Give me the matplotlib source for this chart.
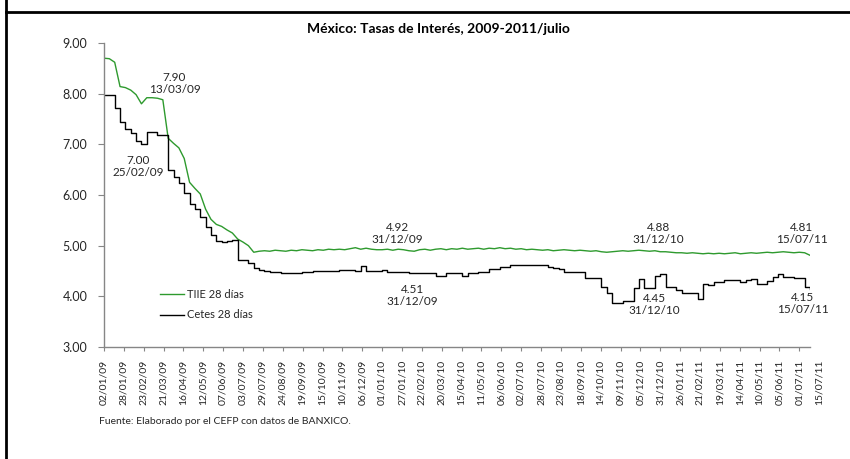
import numpy as np
import pandas as pd
import matplotlib
matplotlib.use("Agg")
from matplotlib import pyplot as plt
from matplotlib.lines import Line2D
import matplotlib.dates as mdates
import matplotlib.transforms as mtransforms

plt.rcParams['font.family'] = ['Lato', 'DejaVu Sans']

# weekly observations, 02/01/2009 - 15/07/2011
fechas = pd.date_range('2009-01-02', periods=133, freq='7D')

tiie = [8.70, 8.69, 8.62, 8.14, 8.12, 8.07, 7.98, 7.80, 7.92, 7.92, 7.91, 7.88,
        7.12, 7.02, 6.93, 6.72, 6.25, 6.13, 6.02, 5.72, 5.52, 5.42, 5.38, 5.31,
        5.25, 5.13, 5.07, 5.00, 4.87, 4.89, 4.90, 4.89, 4.91, 4.90, 4.89, 4.91,
        4.90, 4.92, 4.91, 4.90, 4.92, 4.91, 4.93, 4.92, 4.93, 4.92, 4.94, 4.96,
        4.93, 4.95, 4.93, 4.92, 4.92, 4.93, 4.91, 4.93, 4.92, 4.90, 4.89, 4.92,
        4.93, 4.91, 4.93, 4.94, 4.92, 4.94, 4.93, 4.95, 4.93, 4.94, 4.95, 4.93,
        4.95, 4.94, 4.96, 4.94, 4.95, 4.93, 4.94, 4.92, 4.93, 4.92, 4.91, 4.92,
        4.90, 4.91, 4.92, 4.91, 4.90, 4.91, 4.90, 4.89, 4.90, 4.88, 4.87, 4.88,
        4.89, 4.90, 4.89, 4.90, 4.91, 4.90, 4.89, 4.90, 4.88, 4.88, 4.87, 4.86,
        4.86, 4.85, 4.86, 4.85, 4.84, 4.85, 4.84, 4.85, 4.84, 4.85, 4.86, 4.84,
        4.85, 4.86, 4.85, 4.86, 4.87, 4.86, 4.87, 4.88, 4.87, 4.86, 4.87, 4.86, 4.81]

cetes = [7.97, 7.97, 7.72, 7.44, 7.31, 7.22, 7.07, 7.00, 7.24, 7.25, 7.18, 7.18,
         6.49, 6.36, 6.23, 6.03, 5.83, 5.73, 5.57, 5.37, 5.21, 5.09, 5.08, 5.09,
         5.11, 4.72, 4.72, 4.66, 4.56, 4.51, 4.50, 4.49, 4.48, 4.47, 4.47, 4.47,
         4.47, 4.48, 4.49, 4.50, 4.50, 4.50, 4.50, 4.50, 4.51, 4.51, 4.51, 4.50,
         4.60, 4.50, 4.50, 4.50, 4.51, 4.49, 4.48, 4.48, 4.48, 4.47, 4.47, 4.47,
         4.47, 4.47, 4.41, 4.41, 4.47, 4.47, 4.47, 4.41, 4.46, 4.46, 4.49, 4.49,
         4.53, 4.53, 4.58, 4.58, 4.61, 4.61, 4.61, 4.61, 4.61, 4.61, 4.61, 4.58,
         4.55, 4.53, 4.48, 4.48, 4.48, 4.48, 4.36, 4.36, 4.36, 4.18, 4.07, 3.86,
         3.86, 3.91, 3.91, 4.17, 4.35, 4.17, 4.17, 4.40, 4.45, 4.18, 4.18, 4.13,
         4.07, 4.07, 4.07, 3.94, 4.25, 4.22, 4.28, 4.28, 4.32, 4.32, 4.32, 4.28,
         4.32, 4.35, 4.25, 4.25, 4.30, 4.38, 4.45, 4.38, 4.38, 4.36, 4.36, 4.18, 4.15]

# labelled points: (series value, date, text offset in px)
etiquetas = [
    (7.90, '2009-03-13', 17, 15),
    (7.00, '2009-02-25', -7, -22),
    (4.92, '2009-12-31', 16, 16),
    (4.51, '2009-12-31', 31, -25),
    (4.88, '2010-12-31', -2, 18),
    (4.45, '2010-12-31', -6, -31),
    (4.81, '2011-07-15', -8, 22),
    (4.15, '2011-07-15', -7, -15),
]

verde = '#2e9a2e'
gris = '#868686'
texto = '#262626'

fig = plt.figure(figsize=(8.5, 4.59), dpi=100)
ax = fig.add_axes([104 / 850, 1 - 347 / 459, (810 - 104) / 850, (347 - 43) / 459])

l1, = ax.plot(fechas, tiie, color=verde, lw=1.0, label='TIIE 28 días')
l2, = ax.step(fechas, cetes, where='post', color='black', lw=1.0, label='Cetes 28 días')

ax.set_xlim(fechas[0], fechas[-1])
ax.set_ylim(3, 9)
ax.set_yticks(np.arange(3, 9.01, 1))
ax.yaxis.set_major_formatter(matplotlib.ticker.FormatStrFormatter('%.2f'))

ticks = list(pd.date_range('2009-01-02', '2011-07-15', freq='26D')) + [pd.Timestamp('2011-07-15')]
ax.set_xticks(ticks)
ax.xaxis.set_major_formatter(mdates.DateFormatter('%d/%m/%y'))
ax.tick_params(axis='x', rotation=90, labelsize=7.5, length=3, color=gris, labelcolor=texto, pad=6)
ax.tick_params(axis='y', labelsize=9, length=4, color=gris, labelcolor=texto, pad=8)
last = ax.get_xticklabels()[-1]
last.set_transform(last.get_transform() + mtransforms.ScaledTranslation(9 / 100, 0, fig.dpi_scale_trans))
ax.get_xticklines()[-2].set_visible(False)

for s in ['top', 'right']:
    ax.spines[s].set_visible(False)
for s in ['left', 'bottom']:
    ax.spines[s].set_color(gris)
    ax.spines[s].set_linewidth(1.0)

for val, fecha, dx, dy in etiquetas:
    d = pd.Timestamp(fecha)
    ax.annotate('%.2f\n%s' % (val, d.strftime('%d/%m/%y')), xy=(d, val),
                xytext=(dx * 0.72, dy * 0.72), textcoords='offset points',
                ha='center', va='center', fontsize=8.5, color=texto, linespacing=1.15)

ax.legend(handles=[l1, l2], loc='upper left', bbox_to_anchor=(160 / 850, 1 - 289 / 459),
          bbox_transform=fig.transFigure, frameon=False, fontsize=8,
          handlelength=2.2, handletextpad=0.25, labelspacing=0.85, borderpad=0, borderaxespad=0,
          labelcolor=texto)

fig.suptitle('México: Tasas de Interés, 2009-2011/julio', x=438 / 850, y=1 - 29 / 459,
             va='center', fontsize=10, fontweight='bold', color='black')
fig.text(99 / 850, 1 - 422 / 459, 'Fuente: Elaborado por el CEFP con datos de BANXICO.',
         fontsize=7.5, color=texto, va='center')

# cell border (top and left)
fig.add_artist(Line2D([6 / 850, 1], [1 - 12 / 459, 1 - 12 / 459], color='black', lw=2))
fig.add_artist(Line2D([6 / 850, 6 / 850], [0, 1], color='black', lw=2))

fig.savefig('out.png', dpi=100)
